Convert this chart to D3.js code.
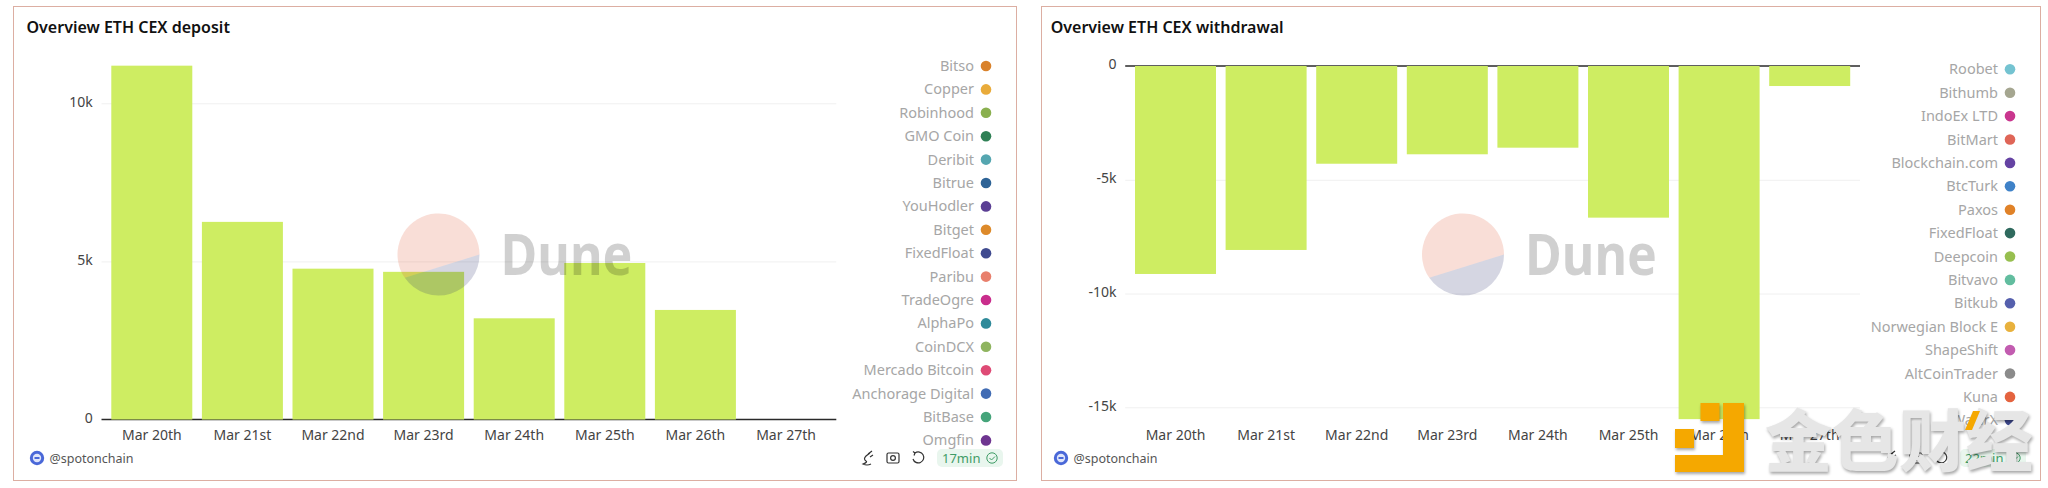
<!DOCTYPE html>
<html>
<head>
<meta charset="utf-8">
<script src="https://cdn.jsdelivr.net/npm/d3@7"></script>
<style>
  html, body { margin: 0; padding: 0; background: #fff; }
  svg { display: block; font-family: "Noto Sans", sans-serif; }
  .domain { display: none; }
  .tick line { display: none; }
</style>
</head>
<body>
<svg id="chart" width="2048" height="488"></svg>
<script>
// data
var days = ['Mar 20th', 'Mar 21st', 'Mar 22nd', 'Mar 23rd', 'Mar 24th', 'Mar 25th', 'Mar 26th', 'Mar 27th'];
var depositValues = [11190, 6250, 4770, 4670, 3200, 4950, 3465, 0];
var withdrawalValues = [-9140, -8085, -4295, -3880, -3590, -6665, -15520, -880];
var depositTicks = [0, 5000, 10000];
var withdrawalTicks = [0, -5000, -10000, -15000];

var depositLegend = ['Bitso', 'Copper', 'Robinhood', 'GMO Coin', 'Deribit', 'Bitrue', 'YouHodler', 'Bitget',
  'FixedFloat', 'Paribu', 'TradeOgre', 'AlphaPo', 'CoinDCX', 'Mercado Bitcoin', 'Anchorage Digital', 'BitBase', 'Omgfin'];
var depositColors = ['#d9822b', '#e9ab3a', '#8ab04f', '#2f8055', '#55a6b0', '#2e6396', '#5b3f94', '#dd8a2a',
  '#3f4a8f', '#e87f6c', '#c92d8c', '#2f8a9a', '#8fb45f', '#de4a75', '#416cb4', '#45a47a', '#6e3590'];
var withdrawalLegend = ['Roobet', 'Bithumb', 'IndoEx LTD', 'BitMart', 'Blockchain.com', 'BtcTurk', 'Paxos', 'FixedFloat',
  'Deepcoin', 'Bitvavo', 'Bitkub', 'Norwegian Block E', 'ShapeShift', 'AltCoinTrader', 'Kuna', 'WazirX'];
var withdrawalColors = ['#74c3d1', '#a5a690', '#c9368e', '#df6557', '#6543a3', '#3f82c8', '#e08228', '#2f6a5e',
  '#97bf4f', '#62bd9f', '#5560ad', '#e8b13d', '#c25cb0', '#8b8b8b', '#e4633f', '#3f4a90'];

var barColor = '#ceed62';
var svg = d3.select('#chart');

function formatTick(d) {
  return d === 0 ? '0' : (d / 1000) + 'k';
}

/*
 * Draws one Dune panel: frame, title, bars, axes, watermark, legend and footer
 */
function drawPanel(p) {
  var g = svg.append('g');

  g.append('rect')
    .attr('x', p.frame[0] + 0.5).attr('y', 6.5)
    .attr('width', p.frame[1] - p.frame[0]).attr('height', 474)
    .attr('fill', '#fff').attr('stroke', '#dcaea2').attr('stroke-width', 1);

  g.append('text')
    .attr('x', p.titleX).attr('y', 33)
    .attr('font-size', 16).attr('font-weight', 600).attr('fill', '#111')
    .text(p.title);

  var x = d3.scaleBand().domain(days).range(p.xRange).paddingInner(0.106).paddingOuter(0.053);
  var y = d3.scaleLinear().domain(p.yDomain).range(p.yRange);

  // grid lines
  g.append('g').selectAll('line')
    .data(p.ticks.filter(function(d) { return d !== 0; }))
    .enter().append('line')
    .attr('x1', p.xRange[0] - 5).attr('x2', p.xRange[1] + 5)
    .attr('y1', function(d) { return y(d) + 0.5; }).attr('y2', function(d) { return y(d) + 0.5; })
    .attr('stroke', '#f0f0f0');

  // zero line
  g.append('line')
    .attr('x1', p.xRange[0] - 5).attr('x2', p.xRange[1] + 5)
    .attr('y1', y(0)).attr('y2', y(0))
    .attr('stroke', '#2a2a2a').attr('stroke-width', 1.5);

  // y axis
  g.append('g')
    .attr('transform', 'translate(' + (p.xRange[0] - 13.7) + ',0)')
    .call(d3.axisLeft(y).tickValues(p.ticks).tickFormat(formatTick).tickSize(0).tickPadding(0))
    .call(function(a) {
      a.selectAll('text').attr('font-size', 14).attr('fill', '#444').attr('dy', '0.2em')
        .attr('font-family', '"Noto Sans", sans-serif');
    });

  // bars
  g.append('g').selectAll('rect')
    .data(p.values)
    .enter().append('rect')
    .attr('x', function(d, i) { return x(days[i]); })
    .attr('width', x.bandwidth())
    .attr('y', function(d) { return Math.min(y(d), y(0)); })
    .attr('height', function(d) { return Math.abs(y(d) - y(0)); })
    .attr('fill', barColor);

  // x axis
  g.append('g')
    .attr('transform', 'translate(0,' + p.xAxisY + ')')
    .call(d3.axisBottom(x).tickSize(0).tickPadding(0))
    .call(function(a) {
      a.selectAll('text').attr('font-size', 14).attr('fill', '#444')
        .attr('font-family', '"Noto Sans", sans-serif');
    });

  drawWatermark(g, p.logoX);
  drawLegend(g, p);
  drawFooter(g, p);
}

/*
 * The Dune logo and word sitting above the bars
 */
function drawWatermark(g, cx) {
  var cy = 254.5, r = 41;
  var split = Math.atan2(22.5, -32.5);

  var lower = d3.path();
  lower.arc(cx, cy, r, 0, split);
  lower.closePath();
  var upper = d3.path();
  upper.arc(cx, cy, r, split, 2 * Math.PI);
  upper.closePath();

  g.append('path').attr('d', upper.toString()).attr('fill', '#df5a38').attr('opacity', 0.2);
  g.append('path').attr('d', lower.toString()).attr('fill', '#2b3270').attr('opacity', 0.2);
  g.append('text')
    .attr('x', cx + 62).attr('y', 275)
    .attr('font-size', 58).attr('font-weight', 700).attr('fill', '#000').attr('opacity', 0.18)
    .attr('textLength', 132).attr('lengthAdjust', 'spacingAndGlyphs')
    .text('Dune');
}

function drawLegend(g, p) {
  var items = g.append('g').selectAll('g')
    .data(p.legend)
    .enter().append('g')
    .attr('transform', function(d, i) { return 'translate(0,' + (p.legendY + i * 23.4) + ')'; });

  items.append('circle')
    .attr('cx', p.legendX + 12).attr('r', 5.3)
    .attr('fill', function(d, i) { return p.legendColors[i]; });

  items.append('text')
    .attr('x', p.legendX)
    .attr('dy', '0.35em')
    .attr('text-anchor', 'end')
    .attr('font-size', 14.5).attr('fill', '#a6a6a6')
    .text(function(d) { return d; });
}

function drawFooter(g, p) {
  var fx = p.footerX;
  g.append('circle').attr('cx', fx).attr('cy', 458).attr('r', 7.2).attr('fill', '#4a68d8');
  g.append('circle').attr('cx', fx).attr('cy', 458).attr('r', 4.2).attr('fill', '#dfe5fa');
  g.append('rect').attr('x', fx - 2.5).attr('y', 457).attr('width', 5).attr('height', 2).attr('fill', '#4a68d8');
  g.append('text')
    .attr('x', fx + 12.5).attr('y', 462.5)
    .attr('font-size', 12.5).attr('fill', '#555')
    .text('@spotonchain');

  // toolbar icons, simple outlines
  var ix = p.iconX;
  var icons = g.append('g').attr('fill', 'none').attr('stroke', '#333').attr('stroke-width', 1.2);
  icons.append('path').attr('d', 'M' + (ix + 3) + ' 453 l-4 3 q-3 3 0 5 q2 1 -3 3 q4 2 8 0 M' + (ix + 1) + ' 454 l4 -3 M' + (ix + 3) + ' 457 l3 -2');
  icons.append('rect').attr('x', ix + 20).attr('y', 453).attr('width', 12).attr('height', 10).attr('rx', 1.5);
  icons.append('circle').attr('cx', ix + 26).attr('cy', 458).attr('r', 2.4);
  icons.append('path').attr('d', 'M' + (ix + 48) + ' 453 a5.5 5.5 0 1 1 -2 6 M' + (ix + 48) + ' 453 l-2 -1.5 M' + (ix + 48) + ' 453 l-1 2.5');

  // freshness badge
  g.append('rect')
    .attr('x', ix + 70).attr('y', 449).attr('width', 66).attr('height', 18).attr('rx', 5)
    .attr('fill', '#e9f6ee');
  g.append('text')
    .attr('x', ix + 75).attr('y', 462.5)
    .attr('font-size', 13).attr('fill', '#3f9c66')
    .text(p.age);
  g.append('circle')
    .attr('cx', ix + 125).attr('cy', 458).attr('r', 5.2)
    .attr('fill', 'none').attr('stroke', '#3f9c66').attr('stroke-width', 1);
  g.append('path')
    .attr('d', 'M' + (ix + 122.5) + ' 458 l2 2 l3.5 -3.5')
    .attr('fill', 'none').attr('stroke', '#3f9c66').attr('stroke-width', 1);
}

/*
 * Publisher stamp across the lower right corner
 */
function drawStamp() {
  var s = svg.append('g').attr('class', 'stamp').style('filter', 'drop-shadow(1px 2px 1.5px rgba(0,0,0,0.35))');

  s.append('text')
    .attr('x', 1765).attr('y', 466)
    .attr('font-family', '"Noto Sans CJK SC", sans-serif')
    .attr('font-size', 67).attr('font-weight', 900)
    .attr('fill', '#e6e6e6')
    .text('金色财经');

  s.append('path').attr('d', 'M1700.5 403h19v18h-19z M1675 429h19v19h-19z M1723 403h21v69h-69v-17h48z').attr('fill', '#f5a800');
  s.append('path').attr('d', 'M1973 411h7l-8 19h-7z').attr('fill', '#f5a800');
}

drawPanel({
  id: 'deposit',
  title: 'Overview ETH CEX deposit',
  titleX: 26.5,
  age: '17min',
  frame: [13, 1016],
  xRange: [106.5, 831.3],
  yDomain: [0, 10000],
  yRange: [419.5, 103.3],
  xAxisY: 430,
  ticks: depositTicks,
  values: depositValues,
  logoX: 438.5,
  legend: depositLegend,
  legendColors: depositColors,
  legendX: 974,
  legendY: 66,
  footerX: 37,
  iconX: 867
});

drawPanel({
  id: 'withdrawal',
  title: 'Overview ETH CEX withdrawal',
  titleX: 1050.7,
  age: '22min',
  frame: [1041, 2040],
  xRange: [1130.2, 1855],
  yDomain: [0, -15000],
  yRange: [66, 407.3],
  xAxisY: 430,
  ticks: withdrawalTicks,
  values: withdrawalValues,
  logoX: 1463,
  legend: withdrawalLegend,
  legendColors: withdrawalColors,
  legendX: 1998,
  legendY: 69.3,
  footerX: 1061,
  iconX: 1890
});

drawStamp();
</script>
</body>
</html>
